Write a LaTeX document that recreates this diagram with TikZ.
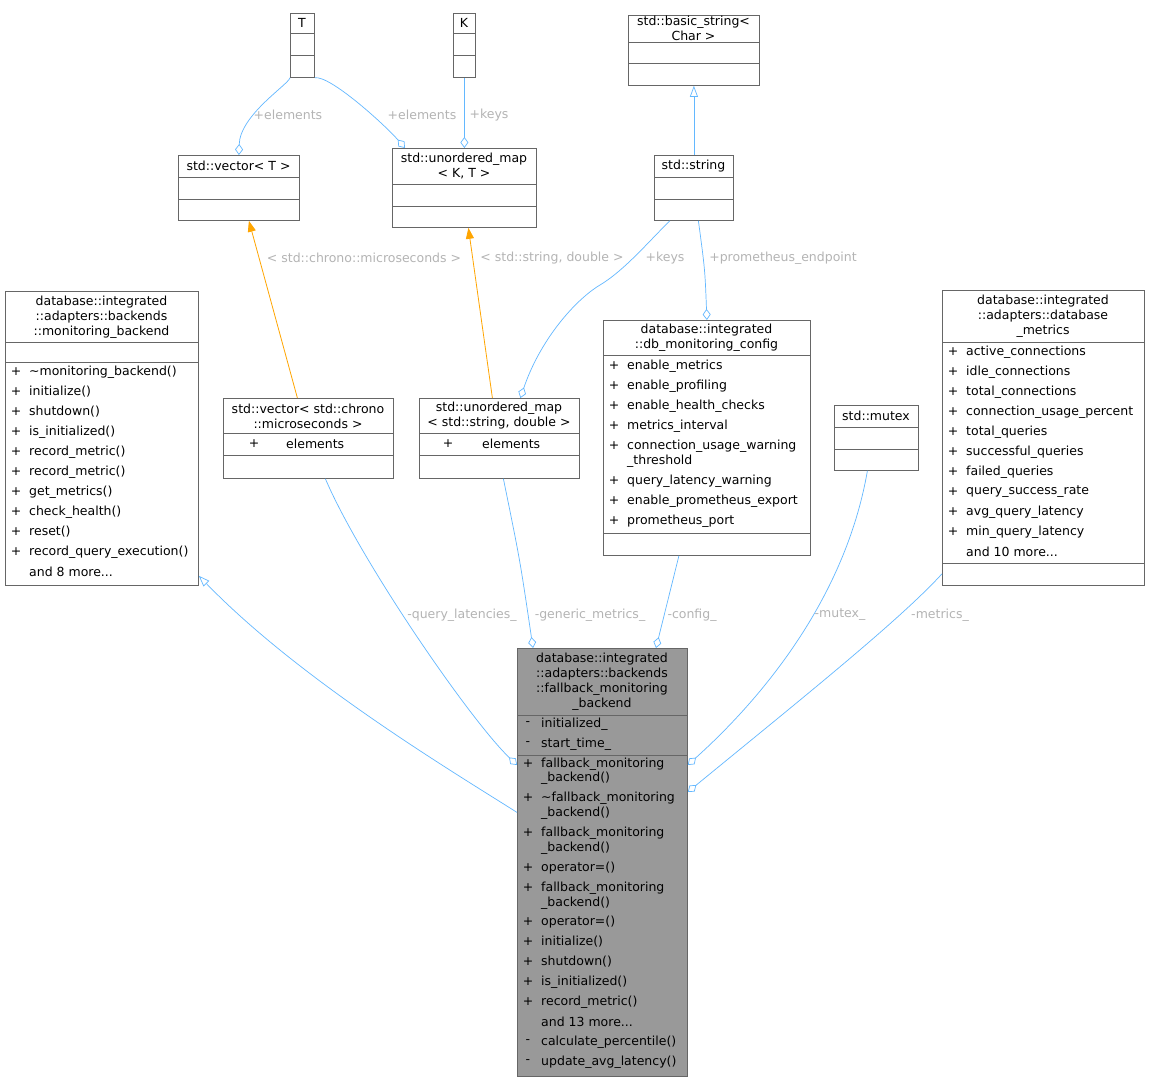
\documentclass[tikz,border=0pt]{standalone}
\usepackage{fontspec}
\setmainfont{DejaVu Sans}
\usetikzlibrary{arrows.meta}
\definecolor{edgeblue}{HTML}{63B8FF}
\definecolor{edgeorange}{HTML}{FFA500}
\definecolor{lblgray}{HTML}{B4B4B4}
\definecolor{boxline}{HTML}{666666}
\definecolor{focusgray}{HTML}{999999}
\tikzset{
	umlbox/.style={draw=boxline, inner sep=0pt, anchor=north west, line width=0.8pt},
	title/.style={align=center, font=\fontsize{12.5}{15}\selectfont, inner sep=0pt},
	member/.style={anchor=west, font=\fontsize{12.5}{15}\selectfont, inner sep=0pt},
	sym/.style={font=\fontsize{12.5}{15}\selectfont, inner sep=0pt},
	lbl/.style={font=\fontsize{12.5}{15}\selectfont, text=lblgray, inner sep=0pt},
	assoc/.style={draw=edgeblue, line width=0.7pt, {Diamond[open,length=11pt,width=8pt]}-},
	inherit/.style={draw=edgeblue, line width=0.7pt, {Triangle[open,length=11pt,width=8pt]}-},
	special/.style={draw=edgeorange, line width=0.8pt, {Triangle[length=11pt,width=8pt]}-},
}
\newcommand{\umlcls}[6]{% name, x1, y1, x2, y2, fill
	\pgfmathsetmacro\bw{#4-#2}\pgfmathsetmacro\bh{#5-#3}
	\node[umlbox, fill=#6, minimum width=\bw pt, minimum height=\bh pt] (#1) at (#2,#3) {};}
\newcommand{\sep}[3]{\draw[boxline, line width=0.8pt] (#1,#3) -- (#2,#3);}
\newcommand{\mem}[4]{\node[sym] at (#1+11,#2) {#3}; \node[member] at (#1+24,#2) {#4};}
\begin{document}
\begin{tikzpicture}[x=1pt, y=-1pt]
	\useasboundingbox[fill=white] (0,0) rectangle (1149,1081);

	%template parameters
	\umlcls{T}{290}{13}{314}{77}{white}
	\node[title] at (302,23) {T};
	\sep{290}{314}{33} \sep{290}{314}{55}
	\umlcls{K}{453}{13}{475}{77}{white}
	\node[title] at (464,23) {K};
	\sep{453}{475}{33} \sep{453}{475}{55}

	%std classes
	\umlcls{bstr}{628}{15}{759}{85}{white}
	\node[title] at (693.5,28.5) {std::basic\_string\textless\\Char \textgreater};
	\sep{628}{759}{42} \sep{628}{759}{63}
	\umlcls{vecT}{178}{155}{299}{220}{white}
	\node[title] at (238.5,166) {std::vector\textless{} T \textgreater};
	\sep{178}{299}{177} \sep{178}{299}{199}
	\umlcls{umap}{392}{148}{536}{227}{white}
	\node[title] at (464,166) {std::unordered\_map\\\textless{} K, T \textgreater};
	\sep{392}{536}{184} \sep{392}{536}{206}
	\umlcls{sstr}{654}{155}{733}{220}{white}
	\node[title] at (693.5,166) {std::string};
	\sep{654}{733}{177} \sep{654}{733}{199}

	%monitoring backend
	\umlcls{mb}{5}{291}{198}{585}{white}
	\node[title] at (101.5,317) {database::integrated\\::adapters::backends\\::monitoring\_backend};
	\sep{5}{198}{342} \sep{5}{198}{362}
	\mem{5}{372}{+}{\textasciitilde monitoring\_backend()}
	\mem{5}{392}{+}{initialize()}
	\mem{5}{412}{+}{shutdown()}
	\mem{5}{432}{+}{is\_initialized()}
	\mem{5}{452}{+}{record\_metric()}
	\mem{5}{472}{+}{record\_metric()}
	\mem{5}{492}{+}{get\_metrics()}
	\mem{5}{512}{+}{check\_health()}
	\mem{5}{532}{+}{reset()}
	\mem{5}{552}{+}{record\_query\_execution()}
	\mem{5}{572}{}{and 8 more...}

	%template instances
	\umlcls{vecc}{223}{398}{393}{478}{white}
	\node[title] at (308,416) {std::vector\textless{} std::chrono\\::microseconds \textgreater};
	\sep{223}{393}{433} \sep{223}{393}{455}
	\node[sym] at (254,444) {+}; \node[member] at (286,444) {elements};
	\umlcls{umapsd}{419}{398}{579}{478}{white}
	\node[title] at (499,416) {std::unordered\_map\\\textless{} std::string, double \textgreater};
	\sep{419}{579}{433} \sep{419}{579}{455}
	\node[sym] at (448,444) {+}; \node[member] at (482,444) {elements};

	%config
	\umlcls{config}{603}{320}{810}{555}{white}
	\node[title] at (706.5,338) {database::integrated\\::db\_monitoring\_config};
	\sep{603}{810}{355}
	\mem{603}{366}{+}{enable\_metrics}
	\mem{603}{386}{+}{enable\_profiling}
	\mem{603}{406}{+}{enable\_health\_checks}
	\mem{603}{426}{+}{metrics\_interval}
	\mem{603}{446}{+}{connection\_usage\_warning}
	\mem{603}{461}{}{\_threshold}
	\mem{603}{481}{+}{query\_latency\_warning}
	\mem{603}{501}{+}{enable\_prometheus\_export}
	\mem{603}{521}{+}{prometheus\_port}
	\sep{603}{810}{533}

	%mutex
	\umlcls{mutex}{834}{405}{918}{470}{white}
	\node[title] at (876,416) {std::mutex};
	\sep{834}{918}{427} \sep{834}{918}{449}

	%metrics
	\umlcls{metrics}{942}{290}{1144}{585}{white}
	\node[title] at (1043,316) {database::integrated\\::adapters::database\\\_metrics};
	\sep{942}{1144}{342}
	\mem{942}{352}{+}{active\_connections}
	\mem{942}{372}{+}{idle\_connections}
	\mem{942}{392}{+}{total\_connections}
	\mem{942}{412}{+}{connection\_usage\_percent}
	\mem{942}{432}{+}{total\_queries}
	\mem{942}{452}{+}{successful\_queries}
	\mem{942}{472}{+}{failed\_queries}
	\mem{942}{492}{+}{query\_success\_rate}
	\mem{942}{512}{+}{avg\_query\_latency}
	\mem{942}{532}{+}{min\_query\_latency}
	\mem{942}{552}{}{and 10 more...}
	\sep{942}{1144}{563}

	%fallback backend
	\umlcls{fb}{517}{648}{687}{1076}{focusgray}
	\node[title] at (602,682) {database::integrated\\::adapters::backends\\::fallback\_monitoring\\\_backend};
	\sep{517}{687}{715}
	\mem{517}{724}{-}{initialized\_}
	\mem{517}{744}{-}{start\_time\_}
	\sep{517}{687}{755}
	\mem{517}{764}{+}{fallback\_monitoring}
	\mem{517}{778}{}{\_backend()}
	\mem{517}{798}{+}{\textasciitilde fallback\_monitoring}
	\mem{517}{813}{}{\_backend()}
	\mem{517}{833}{+}{fallback\_monitoring}
	\mem{517}{848}{}{\_backend()}
	\mem{517}{868}{+}{operator=()}
	\mem{517}{888}{+}{fallback\_monitoring}
	\mem{517}{903}{}{\_backend()}
	\mem{517}{922}{+}{operator=()}
	\mem{517}{942}{+}{initialize()}
	\mem{517}{962}{+}{shutdown()}
	\mem{517}{982}{+}{is\_initialized()}
	\mem{517}{1002}{+}{record\_metric()}
	\mem{517}{1022}{}{and 13 more...}
	\mem{517}{1042}{-}{calculate\_percentile()}
	\mem{517}{1062}{-}{update\_avg\_latency()}

	%upper edges
	\draw[assoc] (vecT.north) .. controls (240,115) and (288,85) .. (T.south west);
	\draw[assoc] ([xshift=13pt]umap.north west) .. controls (385,125) and (330,75) .. (T.south east);
	\draw[assoc] (umap.north) -- (K.south);
	\draw[inherit] (bstr.south) -- (sstr.north);
	\draw[special] ([xshift=10pt]vecT.south) -- ([xshift=-11pt]vecc.north);
	\draw[special] ([xshift=4pt]umap.south) -- ([xshift=-7pt]umapsd.north);
	\draw[assoc] ([xshift=21pt]umapsd.north) .. controls (540,340) and (575,300) .. (600,285)
		.. controls (625,270) and (650,240) .. ([xshift=-24pt]sstr.south);
	\draw[assoc] (config.north) .. controls (705,270) .. ([xshift=4.5pt]sstr.south);
	\node[lbl] at (288,115) {+elements};
	\node[lbl] at (422,115) {+elements};
	\node[lbl] at (489,115) {+keys};
	\node[lbl] at (364,258) {\textless{} std::chrono::microseconds \textgreater};
	\node[lbl] at (552,258) {\textless{} std::string, double \textgreater};
	\node[lbl] at (665,258) {+keys};
	\node[lbl] at (783,258) {+prometheus\_endpoint};

	%lower edges
	\draw[inherit] ([yshift=10pt]mb.south east) .. controls (300,680) and (450,770) .. ([yshift=50pt]fb.west);
	\draw[assoc] ([yshift=-117pt]fb.north west) .. controls (470,720) and (360,560) .. ([xshift=17pt]vecc.south);
	\draw[assoc] ([xshift=16pt]fb.north west) .. controls (520,560) .. ([xshift=4pt]umapsd.south);
	\draw[assoc] ([xshift=139pt]fb.north west) -- ([xshift=-28pt]config.south);
	\draw[assoc] ([yshift=-117pt]fb.north east) .. controls (760,700) and (845,600) .. ([xshift=-9pt]mutex.south);
	\draw[assoc] ([yshift=-144pt]fb.north east) .. controls (800,700) and (900,620) .. ([yshift=12pt]metrics.south west);
	\node[lbl] at (462,615) {-query\_latencies\_};
	\node[lbl] at (590,615) {-generic\_metrics\_};
	\node[lbl] at (692,615) {-config\_};
	\node[lbl] at (840,615) {-mutex\_};
	\node[lbl] at (940,615) {-metrics\_};
\end{tikzpicture}
\end{document}
